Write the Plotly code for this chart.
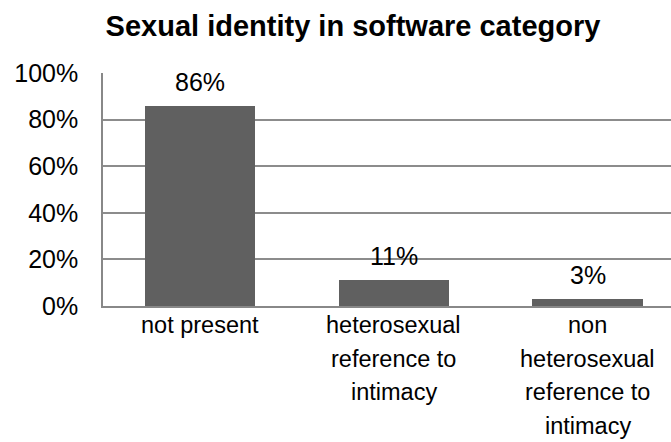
import plotly.graph_objects as go

categories = ["not present", "heterosexual reference to intimacy", "non heterosexual reference to intimacy"]
category_lines = [
    ["not present"],
    ["heterosexual", "reference to", "intimacy"],
    ["non", "heterosexual", "reference to", "intimacy"],
]
shares = [0.86, 0.11, 0.03]
y_ticks = [0, 0.2, 0.4, 0.6, 0.8, 1.0]
y_tick_labels = ["0%", "20%", "40%", "60%", "80%", "100%"]

FONT = "Liberation Sans, Arial, sans-serif"

fig = go.Figure()
fig.add_trace(go.Bar(
    x=list(range(len(categories))),
    y=shares,
    width=0.57,
    marker=dict(color="#606060", line=dict(width=0)),
    hoverinfo="skip",
))

# value labels floating above each bar
for i, v in enumerate(shares):
    fig.add_annotation(
        x=i, y=v, text=f"{round(v * 100)}%", showarrow=False,
        yshift=24, yanchor="middle", xanchor="center",
        font=dict(size=25, color="#000000", family=FONT),
    )

# category labels under the axis, one line each with generous leading
for i, lines in enumerate(category_lines):
    for k, line in enumerate(lines):
        fig.add_annotation(
            x=i, xref="x", y=0, yref="paper", text=line, showarrow=False,
            yanchor="middle", xanchor="center", yshift=-19 - 33.5 * k,
            font=dict(size=23.5, color="#000000", family=FONT),
        )

fig.update_layout(
    width=671, height=442,
    margin=dict(l=103, r=0, t=73, b=136),
    paper_bgcolor="white", plot_bgcolor="white",
    showlegend=False,
    font=dict(family=FONT, color="#000000", size=25),
    title=dict(
        text="<b>Sexual identity in software category</b>",
        x=353 / 671, xanchor="center", xref="container",
        y=1 - 26 / 442, yanchor="middle", yref="container",
        font=dict(size=29, color="#000000"),
    ),
    bargap=0,
)

fig.update_xaxes(
    range=[-0.5, 2.43],
    tickmode="array", tickvals=list(range(len(categories))), ticktext=categories,
    showticklabels=False,
    showgrid=False, zeroline=False,
    showline=True, linecolor="#888888", linewidth=1.5,
    ticks="",
)
fig.update_yaxes(
    range=[0, 1],
    tickmode="array", tickvals=y_ticks, ticktext=y_tick_labels,
    showgrid=True, gridcolor="#8c8c8c", gridwidth=1.5,
    zeroline=False,
    showline=True, linecolor="#888888", linewidth=1.5,
    ticks="", ticklabelstandoff=18, tickfont=dict(size=25),
)

fig.write_html("out.html")
